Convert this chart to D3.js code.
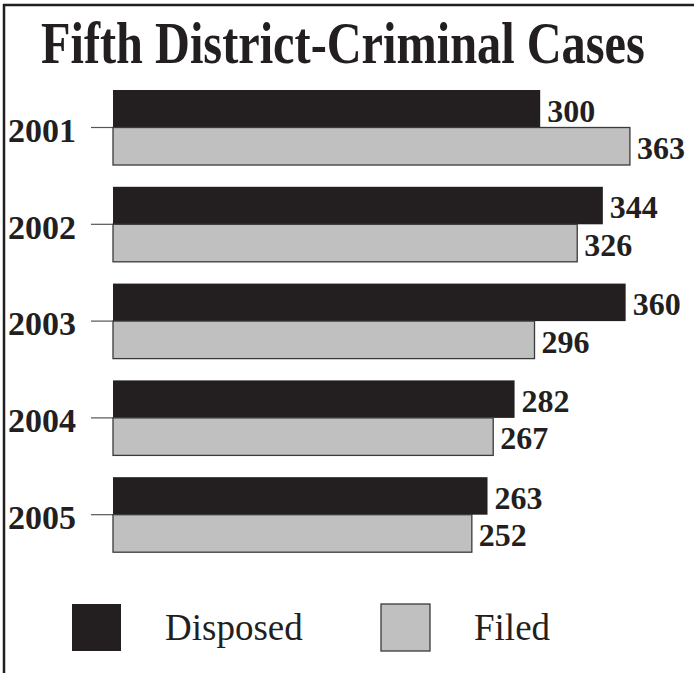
<!DOCTYPE html>
<html>
<head>
<meta charset="utf-8">
<script src="https://cdn.jsdelivr.net/npm/d3@7"></script>
<style>
  html, body { margin: 0; padding: 0; background: #fff; }
  svg { display: block; }
</style>
</head>
<body>
<svg id="viz" width="694" height="673"></svg>
<script>
const years = ["2001", "2002", "2003", "2004", "2005"];
const series = ["Disposed", "Filed"];
const disposed = [300, 344, 360, 282, 263];
const filed = [363, 326, 296, 267, 252];
const colors = {Disposed: "#231f20", Filed: "#c0c0c0"};

const svg = d3.select("#viz");
const serif = "'Liberation Serif', 'Times New Roman', serif";

// frame: top and left edges only
svg.append("line").attr("x1", 3).attr("x2", 694).attr("y1", 5).attr("y2", 5)
    .attr("stroke", "#231f20").attr("stroke-width", 2.5);
svg.append("line").attr("x1", 4).attr("x2", 4).attr("y1", 4).attr("y2", 673)
    .attr("stroke", "#231f20").attr("stroke-width", 2.5);

// title, squeezed horizontally to the reference width
const title = svg.append("text")
    .attr("x", 0).attr("y", 0)
    .style("font-family", serif).style("font-weight", "bold").style("font-size", "59px")
    .attr("fill", "#231f20")
    .text("Fifth District-Criminal Cases");
const natural = title.node().getComputedTextLength();
title.attr("transform", `translate(41,63) scale(${604 / natural},1)`);

const x = d3.scaleLinear().domain([0, 400]).range([113, 682.6]);
const y = d3.scaleBand().domain(years).range([90, 552.2]).paddingInner(0.225).paddingOuter(0);
const ySub = d3.scaleBand().domain(series).range([0, y.bandwidth()]);

const rows = years.map((yr, i) => ({year: yr, Disposed: disposed[i], Filed: filed[i]}));

// year axis
const axis = svg.append("g")
    .attr("transform", `translate(${x(0)},0)`)
    .call(d3.axisLeft(y).tickSize(22).tickPadding(15));
axis.select(".domain").remove();
axis.selectAll(".tick line").attr("stroke", "#555").attr("stroke-width", 1.2);
axis.selectAll(".tick text")
    .attr("dy", "0.42em")
    .attr("fill", "#231f20")
    .style("font-family", serif).style("font-weight", "bold").style("font-size", "34px");

const groups = svg.selectAll("g.row")
    .data(rows)
    .enter()
    .append("g")
    .attr("class", "row")
    .attr("transform", (d) => `translate(0,${y(d.year)})`);

const cells = groups.selectAll("g.cell")
    .data((d) => series.map((s) => ({key: s, value: d[s]})))
    .enter()
    .append("g");

cells.append("rect")
    .attr("x", x(0))
    .attr("y", (d) => ySub(d.key))
    .attr("width", (d) => x(d.value) - x(0))
    .attr("height", ySub.bandwidth())
    .attr("fill", (d) => colors[d.key])
    .attr("stroke", (d) => d.key === "Filed" ? "#3a3a3a" : "none")
    .attr("stroke-width", 1.3);

cells.append("text")
    .attr("x", (d) => x(d.value) + 7)
    .attr("y", (d) => ySub(d.key) + ySub.bandwidth() - 6)
    .attr("fill", "#231f20")
    .style("font-family", serif).style("font-weight", "bold").style("font-size", "32px")
    .text((d) => d.value);

// legend
const legend = svg.selectAll("g.legend")
    .data(series)
    .enter()
    .append("g")
    .attr("class", "legend")
    .attr("transform", (d, i) => `translate(${72 + i * 309},604)`);

legend.append("rect")
    .attr("width", 49).attr("height", 47)
    .attr("fill", (d) => colors[d])
    .attr("stroke", (d) => d === "Filed" ? "#3a3a3a" : "none")
    .attr("stroke-width", 1.3);

legend.append("text")
    .attr("x", 93).attr("y", 36)
    .attr("fill", "#231f20")
    .style("font-family", serif).style("font-size", "37px")
    .text((d) => d);
</script>
</body>
</html>
